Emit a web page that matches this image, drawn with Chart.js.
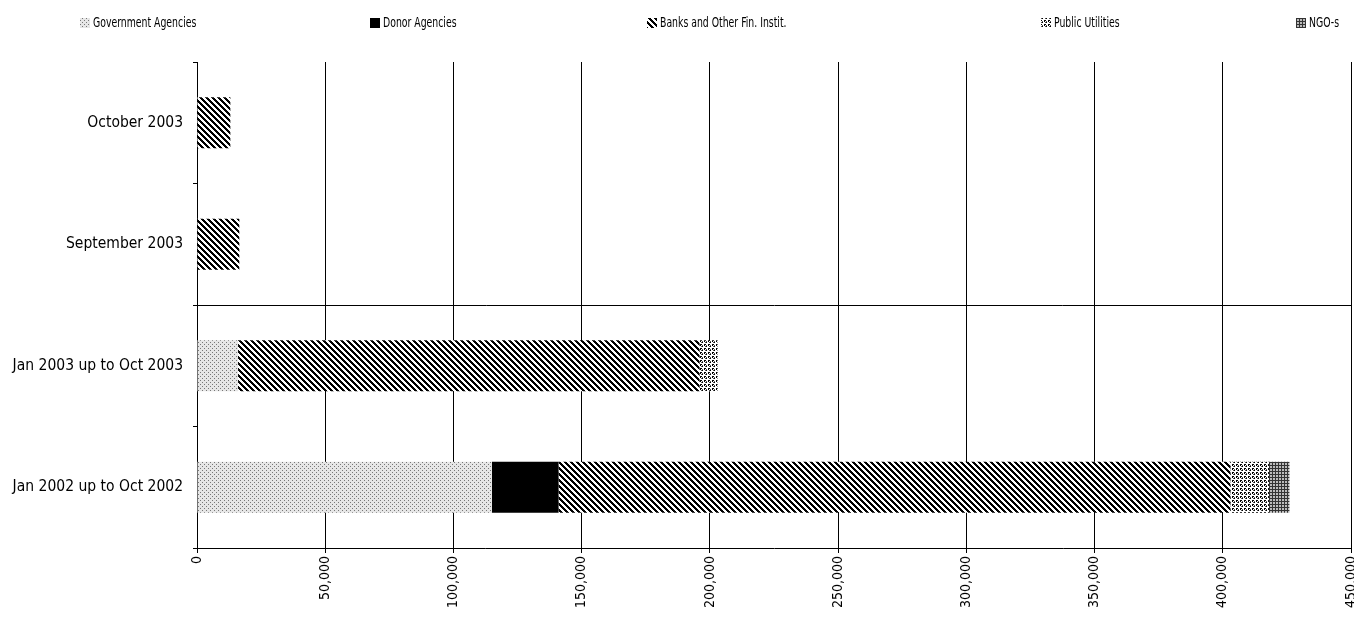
<!DOCTYPE html>
<html>
<head>
<meta charset="utf-8">
<script src="https://cdn.jsdelivr.net/npm/chart.js@4"></script>
<style>
  html, body { margin: 0; padding: 0; background: #fff; }
  #wrap { width: 1354px; height: 619px; }
</style>
</head>
<body>
<div id="wrap"><canvas id="c"></canvas></div>
<script>
// Data
const categories = ['October 2003', 'September 2003', 'Jan 2003 up to Oct 2003', 'Jan 2002 up to Oct 2002'];
const seriesNames = ['Government Agencies', 'Donor Agencies', 'Banks and Other Fin. Instit.', 'Public Utilities', 'NGO-s'];
const government = [0, 0, 16000, 115000];
const donor = [0, 0, 0, 26000];
const banks = [13000, 16500, 180000, 262000];
const utilities = [0, 0, 7000, 15000];
const ngo = [0, 0, 0, 8000];
const xTicks = [0, 50000, 100000, 150000, 200000, 250000, 300000, 350000, 400000, 450000];
const legendX = [80, 370, 647, 1041, 1296];

const FONT = '"DejaVu Sans Condensed", "Liberation Sans", sans-serif';

// Small fill patterns, like the old Excel hatch fills
function makePattern(size, draw) {
    const c = document.createElement('canvas');
    c.width = size; c.height = size;
    const g = c.getContext('2d');
    draw(g, size);
    return document.getElementById('c').getContext('2d').createPattern(c, 'repeat');
}
const dotted = makePattern(4, (g) => {
    g.fillStyle = '#e6e6e6'; g.fillRect(0, 0, 4, 4);
    g.fillStyle = '#777'; g.fillRect(0, 0, 1, 1); g.fillRect(2, 2, 1, 1);
});
const stripes = makePattern(6, (g, s) => {
    g.fillStyle = '#fff'; g.fillRect(0, 0, s, s);
    g.fillStyle = '#000';
    for (let i = 0; i < s; i++) {
        for (let k = 0; k < 3; k++) g.fillRect((i + k) % s, i, 1, 1);
    }
});
const cross = makePattern(4, (g) => {
    g.fillStyle = '#fff'; g.fillRect(0, 0, 4, 4);
    g.fillStyle = '#000';
    g.fillRect(0, 0, 1, 1); g.fillRect(2, 2, 1, 1);
    g.fillRect(1, 0, 1, 1); g.fillRect(0, 1, 1, 1);
    g.fillStyle = '#555'; g.fillRect(2, 1, 1, 1); g.fillRect(1, 2, 1, 1);
});
const grid = makePattern(3, (g) => {
    g.fillStyle = '#bbb'; g.fillRect(0, 0, 3, 3);
    g.fillStyle = '#333'; g.fillRect(0, 0, 3, 1); g.fillRect(0, 0, 1, 3);
});

const fills = [dotted, '#000', stripes, cross, grid];
const values = [government, donor, banks, utilities, ngo];

Chart.defaults.font.family = FONT;
Chart.defaults.font.size = 14;
Chart.defaults.color = '#000';

// Legend spread across the top at fixed spots, as in the original
const spreadLegend = {
    id: 'spreadLegend',
    afterDraw(chart) {
        const ctx = chart.ctx;
        ctx.save();
        ctx.font = '10.5px ' + FONT;
        ctx.textBaseline = 'middle';
        chart.data.datasets.forEach((ds, i) => {
            const x = legendX[i];
            ctx.fillStyle = ds.backgroundColor;
            ctx.fillRect(x, 18, 10, 10);
            ctx.fillStyle = '#000';
            ctx.font = '14px ' + FONT;
            ctx.save();
            ctx.translate(x + 13, 23);
            ctx.scale(0.74, 1);
            ctx.fillText(ds.label, 0, 0);
            ctx.restore();
        });
        ctx.restore();
    }
};

new Chart(document.getElementById('c'), {
    type: 'bar',
    data: {
        labels: categories,
        datasets: seriesNames.map((name, i) => ({
            label: name,
            data: values[i],
            backgroundColor: fills[i],
            borderWidth: 0,
            categoryPercentage: 1,
            barPercentage: 0.42
        }))
    },
    plugins: [spreadLegend],
    options: {
        indexAxis: 'y',
        responsive: true,
        maintainAspectRatio: false,
        animation: false,
        layout: { padding: { top: 62, right: 3, left: 0, bottom: 0 } },
        scales: {
            x: {
                stacked: true,
                min: 0,
                max: 450000,
                afterBuildTicks: (axis) => { axis.ticks = xTicks.map(v => ({ value: v })); },
                afterFit: (axis) => { axis.height = 71; axis.paddingRight = 0; },
                ticks: {
                    minRotation: 90, maxRotation: 90,
                    callback: (v) => v.toLocaleString('en-US')
                },
                grid: { color: '#000', tickLength: 5, tickColor: '#000' },
                border: { color: '#000' }
            },
            y: {
                stacked: true,
                afterFit: (axis) => { axis.width = 197; },
                grid: {
                    offset: true,
                    tickLength: 4,
                    tickColor: '#000',
                    color: (ctx) => ctx.index === 2 ? '#000' : 'rgba(0,0,0,0)'
                },
                ticks: { padding: 10, font: { size: 15.5 } },
                border: { color: '#000' }
            }
        },
        plugins: {
            legend: { display: false },
            tooltip: { enabled: false }
        }
    }
});
</script>
</body>
</html>
